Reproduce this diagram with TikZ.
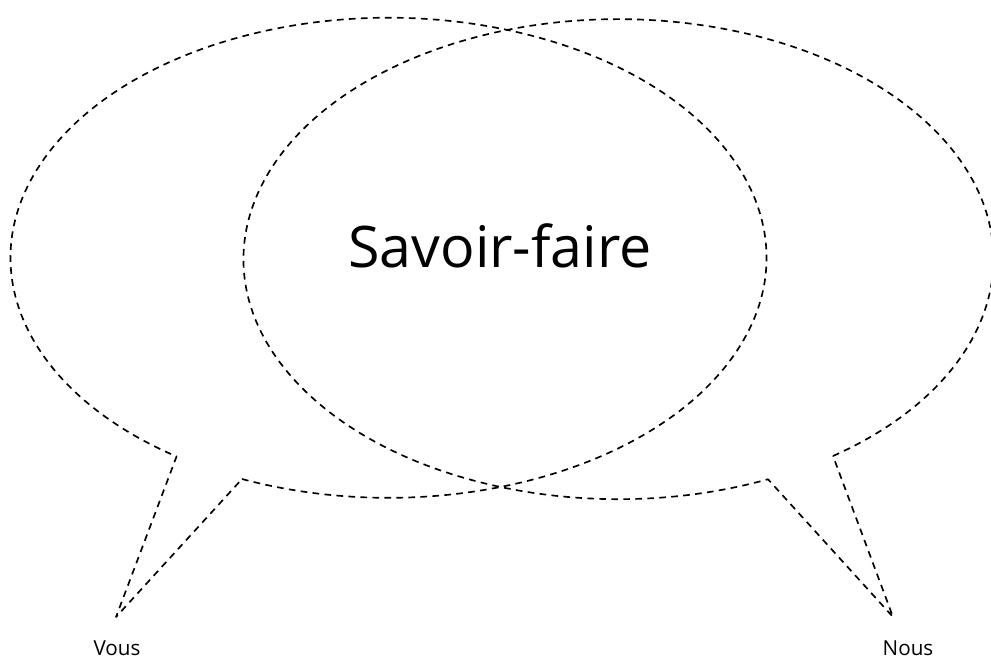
\documentclass[tikz,border=0pt]{standalone}
\usepackage{fontspec}
\setmainfont{Open Sans}
\begin{document}
\begin{tikzpicture}[x=0.75pt,y=0.75pt,
  bubble/.style={draw=black,line width=1.25pt,dash pattern=on 5pt off 4pt,line join=round},
  bigtext/.style={font=\fontsize{43}{50}\selectfont,inner sep=0pt},
  smalltext/.style={font=\fontsize{15.5}{18}\selectfont,inner sep=0pt}]
\useasboundingbox (0,0) rectangle (991,-659);
% left bubble
\coordinate (LA) at (242,-479);
\coordinate (LB) at (176,-457);
\coordinate (Ltip) at (116,-617);
\draw[bubble] (LA) arc[start angle=247.2,end angle=595.9,x radius=378,y radius=240] -- (Ltip) -- cycle;
% right bubble
\coordinate (RA) at (833,-456);
\coordinate (RB) at (767,-479);
\coordinate (Rtip) at (893,-617);
\draw[bubble] (RA) arc[start angle=-55.1,end angle=293.5,x radius=375,y radius=240] -- (Rtip) -- cycle;
\node[bigtext] (sf) at (500,-246) {Savoir-faire};
\node[smalltext] (vous) at (117,-648) {Vous};
\node[smalltext] (nous) at (908,-648) {Nous};
\end{tikzpicture}
\end{document}
